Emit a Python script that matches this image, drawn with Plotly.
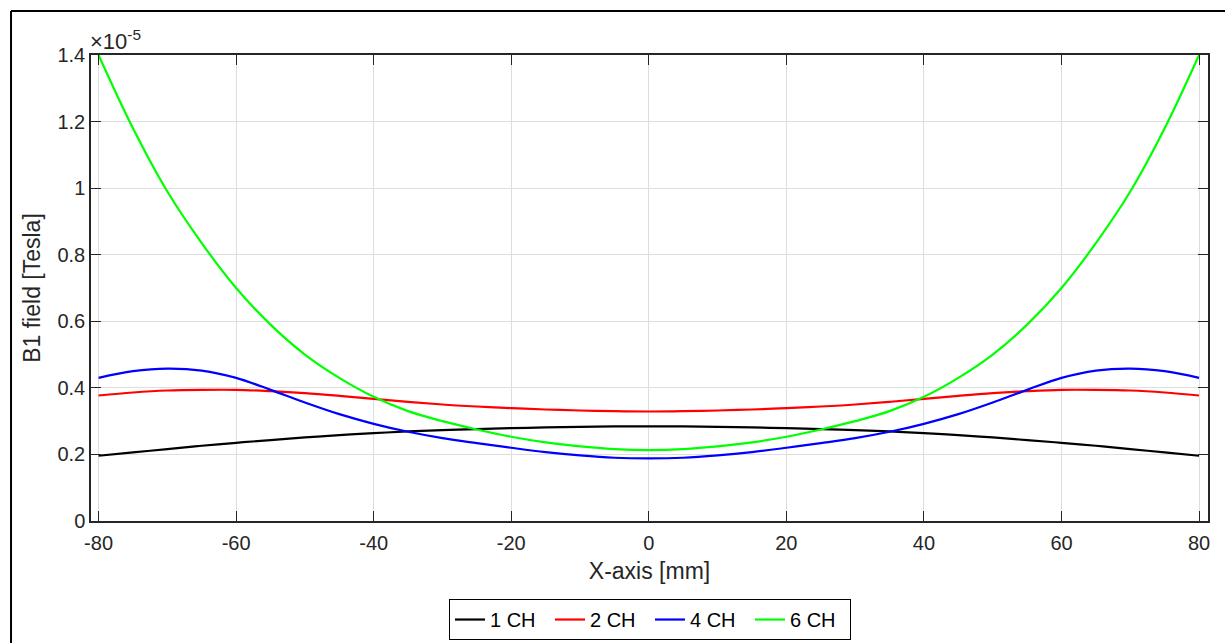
import plotly.graph_objects as go

# Transverse position along the X axis [mm]
x_mm = [-80, -75, -70, -65, -60, -55, -50, -45, -40, -35, -30, -25, -20, -15, -10, -5,
        0, 5, 10, 15, 20, 25, 30, 35, 40, 45, 50, 55, 60, 65, 70, 75, 80]

# B1 field magnitude, in units of 1e-5 Tesla, for each channel configuration
b1_1ch = [0.196, 0.206, 0.216, 0.226, 0.235, 0.243, 0.251, 0.258, 0.264, 0.269, 0.273,
          0.276, 0.279, 0.281, 0.283, 0.284, 0.284, 0.284, 0.283, 0.281, 0.279, 0.276,
          0.273, 0.269, 0.264, 0.258, 0.251, 0.243, 0.235, 0.226, 0.216, 0.206, 0.196]
b1_2ch = [0.377, 0.386, 0.392, 0.394, 0.394, 0.390, 0.384, 0.376, 0.367, 0.358, 0.350,
          0.344, 0.339, 0.335, 0.332, 0.330, 0.329, 0.330, 0.332, 0.335, 0.339, 0.344,
          0.350, 0.358, 0.367, 0.376, 0.384, 0.390, 0.394, 0.394, 0.392, 0.386, 0.377]
b1_4ch = [0.430, 0.450, 0.458, 0.452, 0.430, 0.394, 0.356, 0.321, 0.292, 0.268, 0.249,
          0.234, 0.220, 0.207, 0.197, 0.190, 0.188, 0.190, 0.197, 0.207, 0.220, 0.234,
          0.249, 0.268, 0.292, 0.321, 0.356, 0.394, 0.430, 0.452, 0.458, 0.450, 0.430]
b1_6ch = [1.400, 1.180, 0.990, 0.835, 0.700, 0.590, 0.500, 0.430, 0.373, 0.330, 0.300,
          0.275, 0.253, 0.236, 0.224, 0.216, 0.213, 0.216, 0.224, 0.236, 0.253, 0.275,
          0.300, 0.330, 0.373, 0.430, 0.500, 0.590, 0.700, 0.835, 0.990, 1.180, 1.400]

series_names = ["1 CH", "2 CH", "4 CH", "6 CH"]
series_colors = ["#000000", "#ff0000", "#0000ff", "#00ff00"]
SCALE = 1e-5

x_ticks = [-80, -60, -40, -20, 0, 20, 40, 60, 80]
x_tick_text = ["-80", "-60", "-40", "-20", "0", "20", "40", "60", "80"]
y_ticks = [0, 0.2, 0.4, 0.6, 0.8, 1.0, 1.2, 1.4]
y_tick_text = ["0", "0.2", "0.4", "0.6", "0.8", "1", "1.2", "1.4"]

FONT = "Liberation Sans, Arial, sans-serif"
INK = "#262626"

fig = go.Figure()
for name, color, vals in zip(series_names, series_colors, [b1_1ch, b1_2ch, b1_4ch, b1_6ch]):
    fig.add_trace(go.Scatter(
        x=x_mm, y=[v * SCALE for v in vals], name=name, mode="lines",
        line=dict(color=color, width=2.2, shape="spline", smoothing=1.0),
    ))

axis_common = dict(
    showline=True, linecolor=INK, linewidth=1.5, mirror="allticks",
    ticks="inside", ticklen=10, tickwidth=1.2, tickcolor=INK,
    showgrid=True, gridcolor="#dedede", gridwidth=1, zeroline=False,
    tickfont=dict(family=FONT, size=20, color=INK), automargin=False,
)

fig.update_xaxes(
    range=[-81.1, 81.3], tickvals=x_ticks, ticktext=x_tick_text, ticklabelstandoff=3,
    title=dict(text="X-axis [mm]", font=dict(family=FONT, size=23, color=INK), standoff=10),
    **axis_common,
)
fig.update_yaxes(
    range=[0, 1.4 * SCALE], tickvals=[t * SCALE for t in y_ticks], ticktext=y_tick_text,
    title=dict(text="B1 field [Tesla]", font=dict(family=FONT, size=23, color=INK), standoff=10),
    **axis_common,
)

# Exponent multiplier above the y axis
fig.add_annotation(
    xref="paper", yref="paper", x=0, y=1, xanchor="left", yanchor="bottom",
    text="×10<sup>-5</sup>", showarrow=False, yshift=-1, xshift=-3,
    font=dict(family=FONT, size=22, color=INK),
)

# Figure frame along the top and left edges
fig.add_shape(type="line", xref="paper", yref="paper", x0=-0.0716, y0=1.0944, x1=1.03, y1=1.0944,
              line=dict(color="#000000", width=2))
fig.add_shape(type="line", xref="paper", yref="paper", x0=-0.0716, y0=1.0944, x1=-0.0716, y1=-0.3,
              line=dict(color="#000000", width=2))

fig.update_layout(
    width=1225, height=643,
    margin=dict(l=91, r=17, t=55, b=122, autoexpand=False),
    paper_bgcolor="white", plot_bgcolor="white",
    font=dict(family=FONT, color=INK),
    showlegend=True,
    legend=dict(
        orientation="h", xref="container", yref="container",
        x=0.5306, xanchor="center", y=0.0365, yanchor="middle",
        bgcolor="white", bordercolor="#000000", borderwidth=1,
        font=dict(family=FONT, size=20, color="#000000"),
        itemwidth=30, tracegroupgap=0, entrywidth=55, entrywidthmode="pixels",
    ),
)

fig.write_html("out.html")
